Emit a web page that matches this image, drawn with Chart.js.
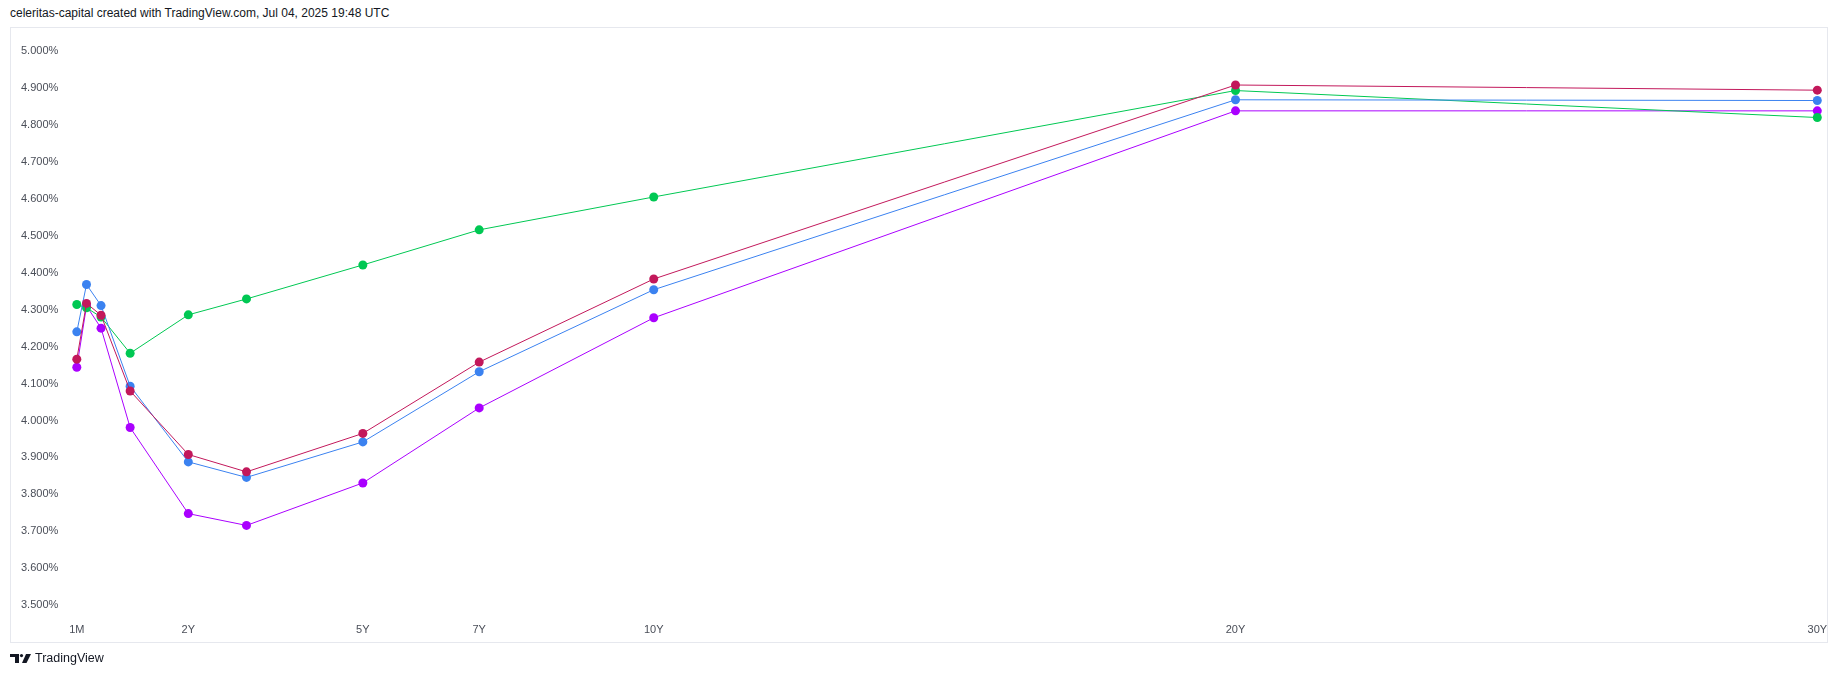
<!DOCTYPE html>
<html>
<head>
<meta charset="utf-8">
<script src="https://cdn.jsdelivr.net/npm/chart.js@4.4.1/dist/chart.umd.min.js"></script>
<style>
  body { margin: 0; background: #fff; width: 1838px; height: 678px; overflow: hidden; position: relative; font-family: "Liberation Sans", Arial, sans-serif; }
  #head { position: absolute; left: 10px; top: 6px; font-size: 12px; color: #131722; }
  #foot { position: absolute; left: 10px; top: 651px; font-size: 12.5px; color: #131722; display: flex; align-items: center; }
  #foot svg { margin-right: 4px; }
  canvas { position: absolute; left: 0; top: 0; }
</style>
</head>
<body>
<div id="head">celeritas-capital created with TradingView.com, Jul 04, 2025 19:48 UTC</div>
<canvas id="myChart" width="1838" height="678"></canvas>
<div id="foot">
  <svg width="21" height="9" viewBox="0 0 21 9">
    <path d="M0 0 H9 V9 H5 V3 H0 Z" fill="#131722"/>
    <circle cx="11.5" cy="1.6" r="1.6" fill="#131722"/>
    <path d="M16 0 H21 L16.5 9 H12 Z" fill="#131722"/>
  </svg>
  <span>TradingView</span>
</div>
<script>
// maturities in years
const maturities = [1/12, 0.25, 0.5, 1, 2, 3, 5, 7, 10, 20, 30];
const maturityNames = ['1M', '3M', '6M', '1Y', '2Y', '3Y', '5Y', '7Y', '10Y', '20Y', '30Y'];

// yields in %
const redYields    = [4.166, 4.317, 4.285, 4.080, 3.908, 3.861, 3.965, 4.158, 4.383, 4.908, 4.894];
const blueYields   = [4.240, 4.368, 4.311, 4.093, 3.888, 3.846, 3.942, 4.132, 4.354, 4.868, 4.866];
const greenYields  = [4.314, 4.305, 4.280, 4.182, 4.286, 4.329, 4.421, 4.516, 4.605, 4.893, 4.820];
const purpleYields = [4.144, 4.310, 4.250, 3.981, 3.748, 3.716, 3.831, 4.034, 4.278, 4.838, 4.838];

const xTickValues = [1/12, 2, 5, 7, 10, 20, 30];
const xTickLabels = ['1M', '2Y', '5Y', '7Y', '10Y', '20Y', '30Y'];
const yTicks = [3.5, 3.6, 3.7, 3.8, 3.9, 4.0, 4.1, 4.2, 4.3, 4.4, 4.5, 4.6, 4.7, 4.8, 4.9, 5.0];

function pts(arr) {
  return arr.map((v, i) => ({ x: maturities[i], y: v }));
}

function line(label, arr, color) {
  return {
    label: label,
    data: pts(arr),
    borderColor: color,
    backgroundColor: color,
    borderWidth: 1,
    pointRadius: 4.5,
    pointBorderWidth: 0,
    pointHoverRadius: 4.5,
    tension: 0
  };
}

// frame around the plot
const framePlugin = {
  id: 'frame',
  beforeDraw(chart) {
    const c = chart.ctx;
    c.save();
    c.strokeStyle = '#e6e8ee';
    c.lineWidth = 1;
    c.strokeRect(10.5, 27.5, 1817, 615);
    c.restore();
  }
};

const ctx = document.getElementById('myChart');

new Chart(ctx, {
  type: 'line',
  data: {
    datasets: [
      line('red', redYields, '#c2185b'),
      line('blue', blueYields, '#3b82f0'),
      line('green', greenYields, '#00c853'),
      line('purple', purpleYields, '#aa00ff')
    ]
  },
  options: {
    responsive: false,
    animation: false,
    devicePixelRatio: 1,
    layout: { padding: { left: 10, right: 10, top: 27, bottom: 35 } },
    plugins: {
      legend: { display: false },
      tooltip: { enabled: false }
    },
    scales: {
      x: {
        type: 'linear',
        min: -1.065,
        max: 30.184,
        grid: { display: false, drawTicks: false },
        border: { display: false },
        afterFit(s) { s.height = 28; },
        afterBuildTicks(s) { s.ticks = xTickValues.map(v => ({ value: v })); },
        ticks: {
          padding: 8,
          maxRotation: 0,
          autoSkip: false,
          color: '#4a4e58',
          font: { family: 'Liberation Sans', size: 11 },
          callback: (v) => {
            const i = xTickValues.findIndex(t => Math.abs(t - v) < 1e-6);
            return i >= 0 ? xTickLabels[i] : '';
          }
        }
      },
      y: {
        min: 3.4736,
        max: 5.065,
        grid: { display: false, drawTicks: false },
        border: { display: false },
        afterFit(s) { s.width = 0; },
        afterBuildTicks(s) { s.ticks = yTicks.map(v => ({ value: v })); },
        ticks: {
          mirror: true,
          padding: 11,
          color: '#4a4e58',
          font: { family: 'Liberation Sans', size: 11 },
          callback: (v) => v.toFixed(3) + '%'
        }
      }
    }
  },
  plugins: [framePlugin]
});
</script>
</body>
</html>
